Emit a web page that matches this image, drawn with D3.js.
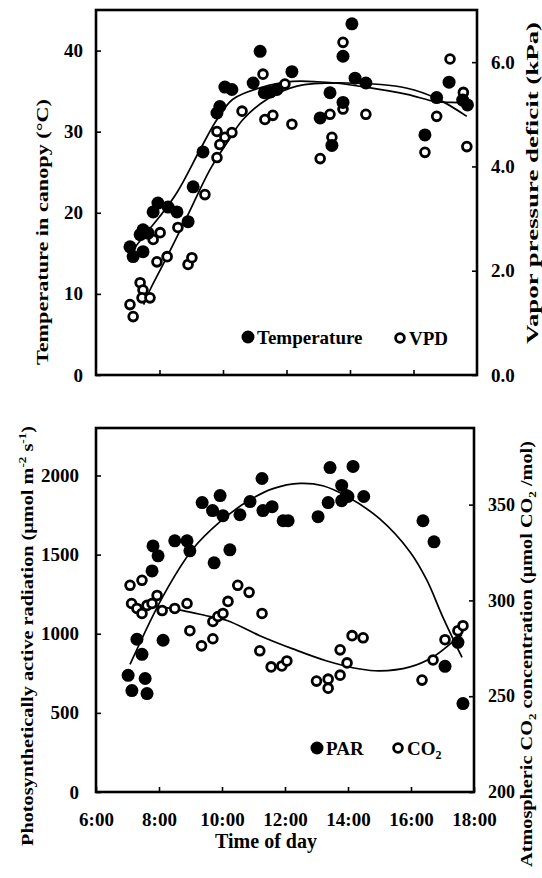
<!DOCTYPE html>
<html>
<head>
<meta charset="utf-8">
<title>Diurnal course of canopy climate</title>
<script src="https://cdnjs.cloudflare.com/ajax/libs/d3/7.8.5/d3.min.js"></script>
<style>
  body { margin: 0; background: #fff; }
  svg text { font-family: "Liberation Serif", "Times New Roman", serif; font-weight: bold; fill: #000; }
</style>
</head>
<body>
<svg width="542" height="878"></svg>
<script>
// ---- top panel data: canopy temperature (degC) and VPD (kPa) vs hour of day
const tempTime = [7.07, 7.17, 7.48, 7.39, 7.48, 7.64, 7.8, 7.95, 8.27, 8.55, 8.9, 9.06, 9.37, 9.81, 9.9,
  10.06, 10.28, 10.95, 11.17, 11.3, 11.5, 11.7, 12.17, 13.06, 13.37, 13.43, 13.78, 13.78, 14.06, 14.16,
  14.5, 16.36, 16.73, 17.12, 17.55, 17.7];
const tempVal = [15.8, 14.6, 15.2, 17.3, 17.9, 17.5, 20.1, 21.2, 20.7, 20.1, 18.9, 23.2, 27.5, 32.3, 33.1,
  35.5, 35.2, 36.0, 39.9, 34.8, 34.9, 35.2, 37.4, 31.7, 34.8, 28.3, 39.3, 33.6, 43.3, 36.6,
  36.0, 29.6, 34.2, 36.1, 33.9, 33.3];

const vpdTime = [7.07, 7.17, 7.39, 7.48, 7.45, 7.7, 7.92, 8.24, 7.8, 8.02, 8.58, 8.9, 9.02, 9.43, 9.81,
  9.9, 9.81, 10.06, 10.28, 10.6, 11.26, 11.32, 11.57, 11.95, 12.17, 13.06, 13.37, 13.43, 13.78, 13.78,
  14.5, 16.36, 16.73, 17.15, 17.57, 17.68];
const vpdVal = [1.35, 1.12, 1.77, 1.63, 1.48, 1.48, 2.17, 2.27, 2.6, 2.73, 2.83, 2.12, 2.25, 3.46, 4.17,
  4.42, 4.67, 4.56, 4.65, 5.06, 5.77, 4.9, 4.98, 5.58, 4.81, 4.15, 5.0, 4.56, 5.1, 6.38,
  5.0, 4.27, 4.96, 6.06, 5.42, 4.38];

// fitted trend lines
const tempFitTime = [7.2, 7.6, 8.0, 8.55, 9.28, 9.81, 10.31, 11.17, 12.2, 13.5, 14.5, 15.8, 16.7, 17.2, 17.7];
const tempFitVal = [15.6, 17.6, 19.5, 22.5, 27.8, 31.5, 34.0, 35.4, 36.2, 36.0, 35.5, 34.6, 33.7, 33.6, 33.6];
const vpdFitTime = [7.5, 7.7, 8.24, 8.87, 9.59, 10.13, 10.63, 11.39, 12.33, 13.9, 15.8, 16.74, 17.68];
const vpdFitVal = [1.35, 1.63, 2.27, 3.04, 3.94, 4.46, 4.9, 5.29, 5.54, 5.6, 5.5, 5.3, 4.96];

// ---- bottom panel data: PAR (umol m-2 s-1) and CO2 (umol/mol)
const parTime = [7.02, 7.14, 7.56, 7.62, 7.3, 7.46, 7.78, 7.81, 7.97, 8.13, 8.5, 8.89, 8.98, 9.37, 9.7,
  9.75, 9.94, 10.03, 10.25, 10.57, 10.89, 11.27, 11.3, 11.59, 11.94, 12.1, 13.05, 13.37, 13.43, 13.8,
  13.8, 13.95, 14.0, 14.16, 14.5, 16.38, 16.73, 17.08, 17.49, 17.65];
const parVal = [737, 641, 717, 622, 965, 870, 1397, 1555, 1492, 959, 1587, 1587, 1524, 1829, 1778,
  1448, 1873, 1746, 1530, 1752, 1835, 1981, 1778, 1803, 1714, 1714, 1740, 1829, 2050, 1937,
  1841, 1873, 1867, 2057, 1867, 1714, 1581, 794, 946, 559];

const co2Time = [7.08, 7.46, 7.13, 7.3, 7.46, 7.62, 7.78, 7.94, 8.1, 8.5, 8.89, 8.98, 9.35, 9.71, 9.71,
  9.87, 10.03, 10.19, 10.5, 10.86, 11.27, 11.2, 11.56, 11.9, 12.06, 13.0, 13.37, 13.37, 13.75, 13.97,
  13.75, 14.13, 14.48, 16.35, 16.7, 17.08, 17.49, 17.65];
const co2Val = [307.9, 310.5, 298.4, 295.8, 293.2, 297.4, 298.4, 302.6, 294.7, 295.8, 298.4, 284.2, 276.3, 280, 289,
  291.6, 293.2, 299.5, 307.9, 304.2, 293.2, 273.7, 265.3, 265.8, 268.4, 257.9, 258.9, 254.2, 261, 267.4,
  274.2, 281.6, 280.5, 258.4, 268.9, 279.5, 284.2, 286.8];

const parFitTime = [7.08, 8.13, 9.08, 9.94, 10.8, 11.62, 12.48, 13.2, 13.97, 15.0, 15.97, 16.5, 17.0, 17.62];
const parFitVal = [806, 1238, 1537, 1708, 1835, 1917, 1950, 1935, 1867, 1727, 1517, 1340, 1110, 850];
const co2FitTime = [7.9, 8.76, 9.5, 10.16, 11.2, 12.25, 13.33, 14.38, 15.0, 15.97, 16.7, 17.33, 17.62];
const co2FitVal = [297, 294.7, 292, 289.5, 281.6, 274.7, 268.4, 264.2, 263.2, 265.3, 270.5, 278.4, 282];

const hourTicks = [6, 8, 10, 12, 14, 16, 18];

const svg = d3.select("svg");
const zip = (xs, ys) => xs.map((x, i) => [x, ys[i]]);

// panel boxes
const boxTop = {l: 96, r: 477, t: 10, b: 375};
const boxBot = {l: 96, r: 474, t: 428, b: 792};

const xTop = d3.scaleLinear().domain([6, 18]).range([boxTop.l, boxTop.r]);
const yTemp = d3.scaleLinear().domain([0, 45]).range([boxTop.b, boxTop.t]);
const yVpd = d3.scaleLinear().domain([0, 7]).range([boxTop.b, boxTop.t]);

const xBot = d3.scaleLinear().domain([6, 18]).range([boxBot.l, boxBot.r]);
const yPar = d3.scaleLinear().domain([0, 2300]).range([boxBot.b, boxBot.t]);
const yCo2 = d3.scaleLinear().domain([200, 390]).range([boxBot.b, boxBot.t]);

function styleAxis(g, size) {
  g.attr("font-family", null).attr("font-size", size);
  g.select(".domain").remove();
  g.selectAll(".tick line").attr("stroke-width", 1.6);
}

// top panel axes
svg.append("g").attr("transform", `translate(${boxTop.l},0)`)
  .call(d3.axisLeft(yTemp).tickValues([0, 10, 20, 30, 40]).tickSize(-5).tickPadding(13))
  .call(g => styleAxis(g, 19));
svg.append("g").attr("transform", `translate(${boxTop.r},0)`)
  .call(d3.axisRight(yVpd).tickValues([0, 2, 4, 6]).tickFormat(d3.format(".1f")).tickSize(-5).tickPadding(14))
  .call(g => styleAxis(g, 19));
svg.append("g").attr("transform", `translate(0,${boxTop.b})`)
  .call(d3.axisBottom(xTop).tickValues(hourTicks.slice(1, -1)).tickSize(-5).tickFormat(""))
  .call(g => styleAxis(g, 19));

// bottom panel axes
svg.append("g").attr("transform", `translate(${boxBot.l},0)`)
  .call(d3.axisLeft(yPar).tickValues([0, 500, 1000, 1500, 2000]).tickFormat(d3.format("d")).tickSize(-5).tickPadding(17))
  .call(g => styleAxis(g, 19));
svg.append("g").attr("transform", `translate(${boxBot.r},0)`)
  .call(d3.axisRight(yCo2).tickValues([200, 250, 300, 350]).tickSize(-5).tickPadding(14))
  .call(g => styleAxis(g, 18));
svg.append("g").attr("transform", `translate(0,${boxBot.b})`)
  .call(d3.axisBottom(xBot).tickValues(hourTicks).tickSize(-5).tickPadding(21).tickFormat(d => d + ":00"))
  .call(g => styleAxis(g, 19));

// frames
[boxTop, boxBot].forEach(p => {
  svg.append("rect")
    .attr("x", p.l).attr("y", p.t)
    .attr("width", p.r - p.l).attr("height", p.b - p.t)
    .attr("fill", "none").attr("stroke", "#000").attr("stroke-width", 2.6);
});

// trend lines
function fitLine(x, y, xs, ys) {
  svg.append("path")
    .datum(zip(xs, ys))
    .attr("fill", "none").attr("stroke", "#000").attr("stroke-width", 1.7)
    .attr("d", d3.line().x(d => x(d[0])).y(d => y(d[1])).curve(d3.curveCatmullRom.alpha(0.5)));
}
fitLine(xTop, yTemp, tempFitTime, tempFitVal);
fitLine(xTop, yVpd, vpdFitTime, vpdFitVal);
fitLine(xBot, yPar, parFitTime, parFitVal);
fitLine(xBot, yCo2, co2FitTime, co2FitVal);

// points
function dots(x, y, xs, ys, hollow) {
  svg.append("g").selectAll("circle")
    .data(zip(xs, ys)).join("circle")
    .attr("cx", d => x(d[0])).attr("cy", d => y(d[1]))
    .attr("r", hollow ? 4.4 : 6.5)
    .attr("fill", hollow ? "#fff" : "#000")
    .attr("stroke", hollow ? "#000" : "none")
    .attr("stroke-width", hollow ? 2.8 : 0);
}
dots(xTop, yVpd, vpdTime, vpdVal, true);
dots(xTop, yTemp, tempTime, tempVal, false);
dots(xBot, yCo2, co2Time, co2Val, true);
dots(xBot, yPar, parTime, parVal, false);

// legends
function legendItem(cx, cy, hollow, label, sub) {
  svg.append("circle").attr("cx", cx).attr("cy", cy)
    .attr("r", hollow ? 4.4 : 6.5)
    .attr("fill", hollow ? "#fff" : "#000")
    .attr("stroke", hollow ? "#000" : "none").attr("stroke-width", 2.8);
  const t = svg.append("text").attr("x", cx + 9).attr("y", cy + 7).attr("font-size", 19).text(label);
  if (sub) t.append("tspan").attr("font-size", 12).attr("dy", 4).text(sub);
}
legendItem(248, 337, false, "Temperature");
legendItem(400, 338, true, "VPD");
legendItem(317, 748, false, "PAR");
legendItem(398, 748, true, "CO", "2");

// axis titles
function vTitle(x, cy, len, parts) {
  const t = svg.append("text")
    .attr("transform", `translate(${x},${cy}) rotate(-90)`)
    .attr("text-anchor", "middle")
    .attr("font-size", 17)
    .attr("textLength", len).attr("lengthAdjust", "spacingAndGlyphs");
  parts.forEach(p => {
    const s = t.append("tspan").text(p.t);
    if (p.sup) s.attr("font-size", 11).attr("dy", -7);
    if (p.sub) s.attr("font-size", 11).attr("dy", 4);
    if (p.back) s.attr("dy", p.back);
  });
}
vTitle(48, 232, 266, [{t: "Temperature in canopy  (°C)"}]);
vTitle(538, 183, 322, [{t: "Vapor pressure deficit  (kPa)"}]);
vTitle(33, 636, 420, [{t: "Photosynthetically active radiation  (μmol m"}, {t: "-2", sup: true},
  {t: " s", back: 7}, {t: "-1", sup: true}, {t: ")", back: 7}]);
vTitle(532, 654, 426, [{t: "Atmospheric CO"}, {t: "2", sub: true}, {t: " concentration (μmol CO", back: -4},
  {t: "2", sub: true}, {t: " /mol)", back: -4}]);

svg.append("text")
  .attr("x", 266).attr("y", 848)
  .attr("text-anchor", "middle").attr("font-size", 20)
  .text("Time of day");
</script>
</body>
</html>
